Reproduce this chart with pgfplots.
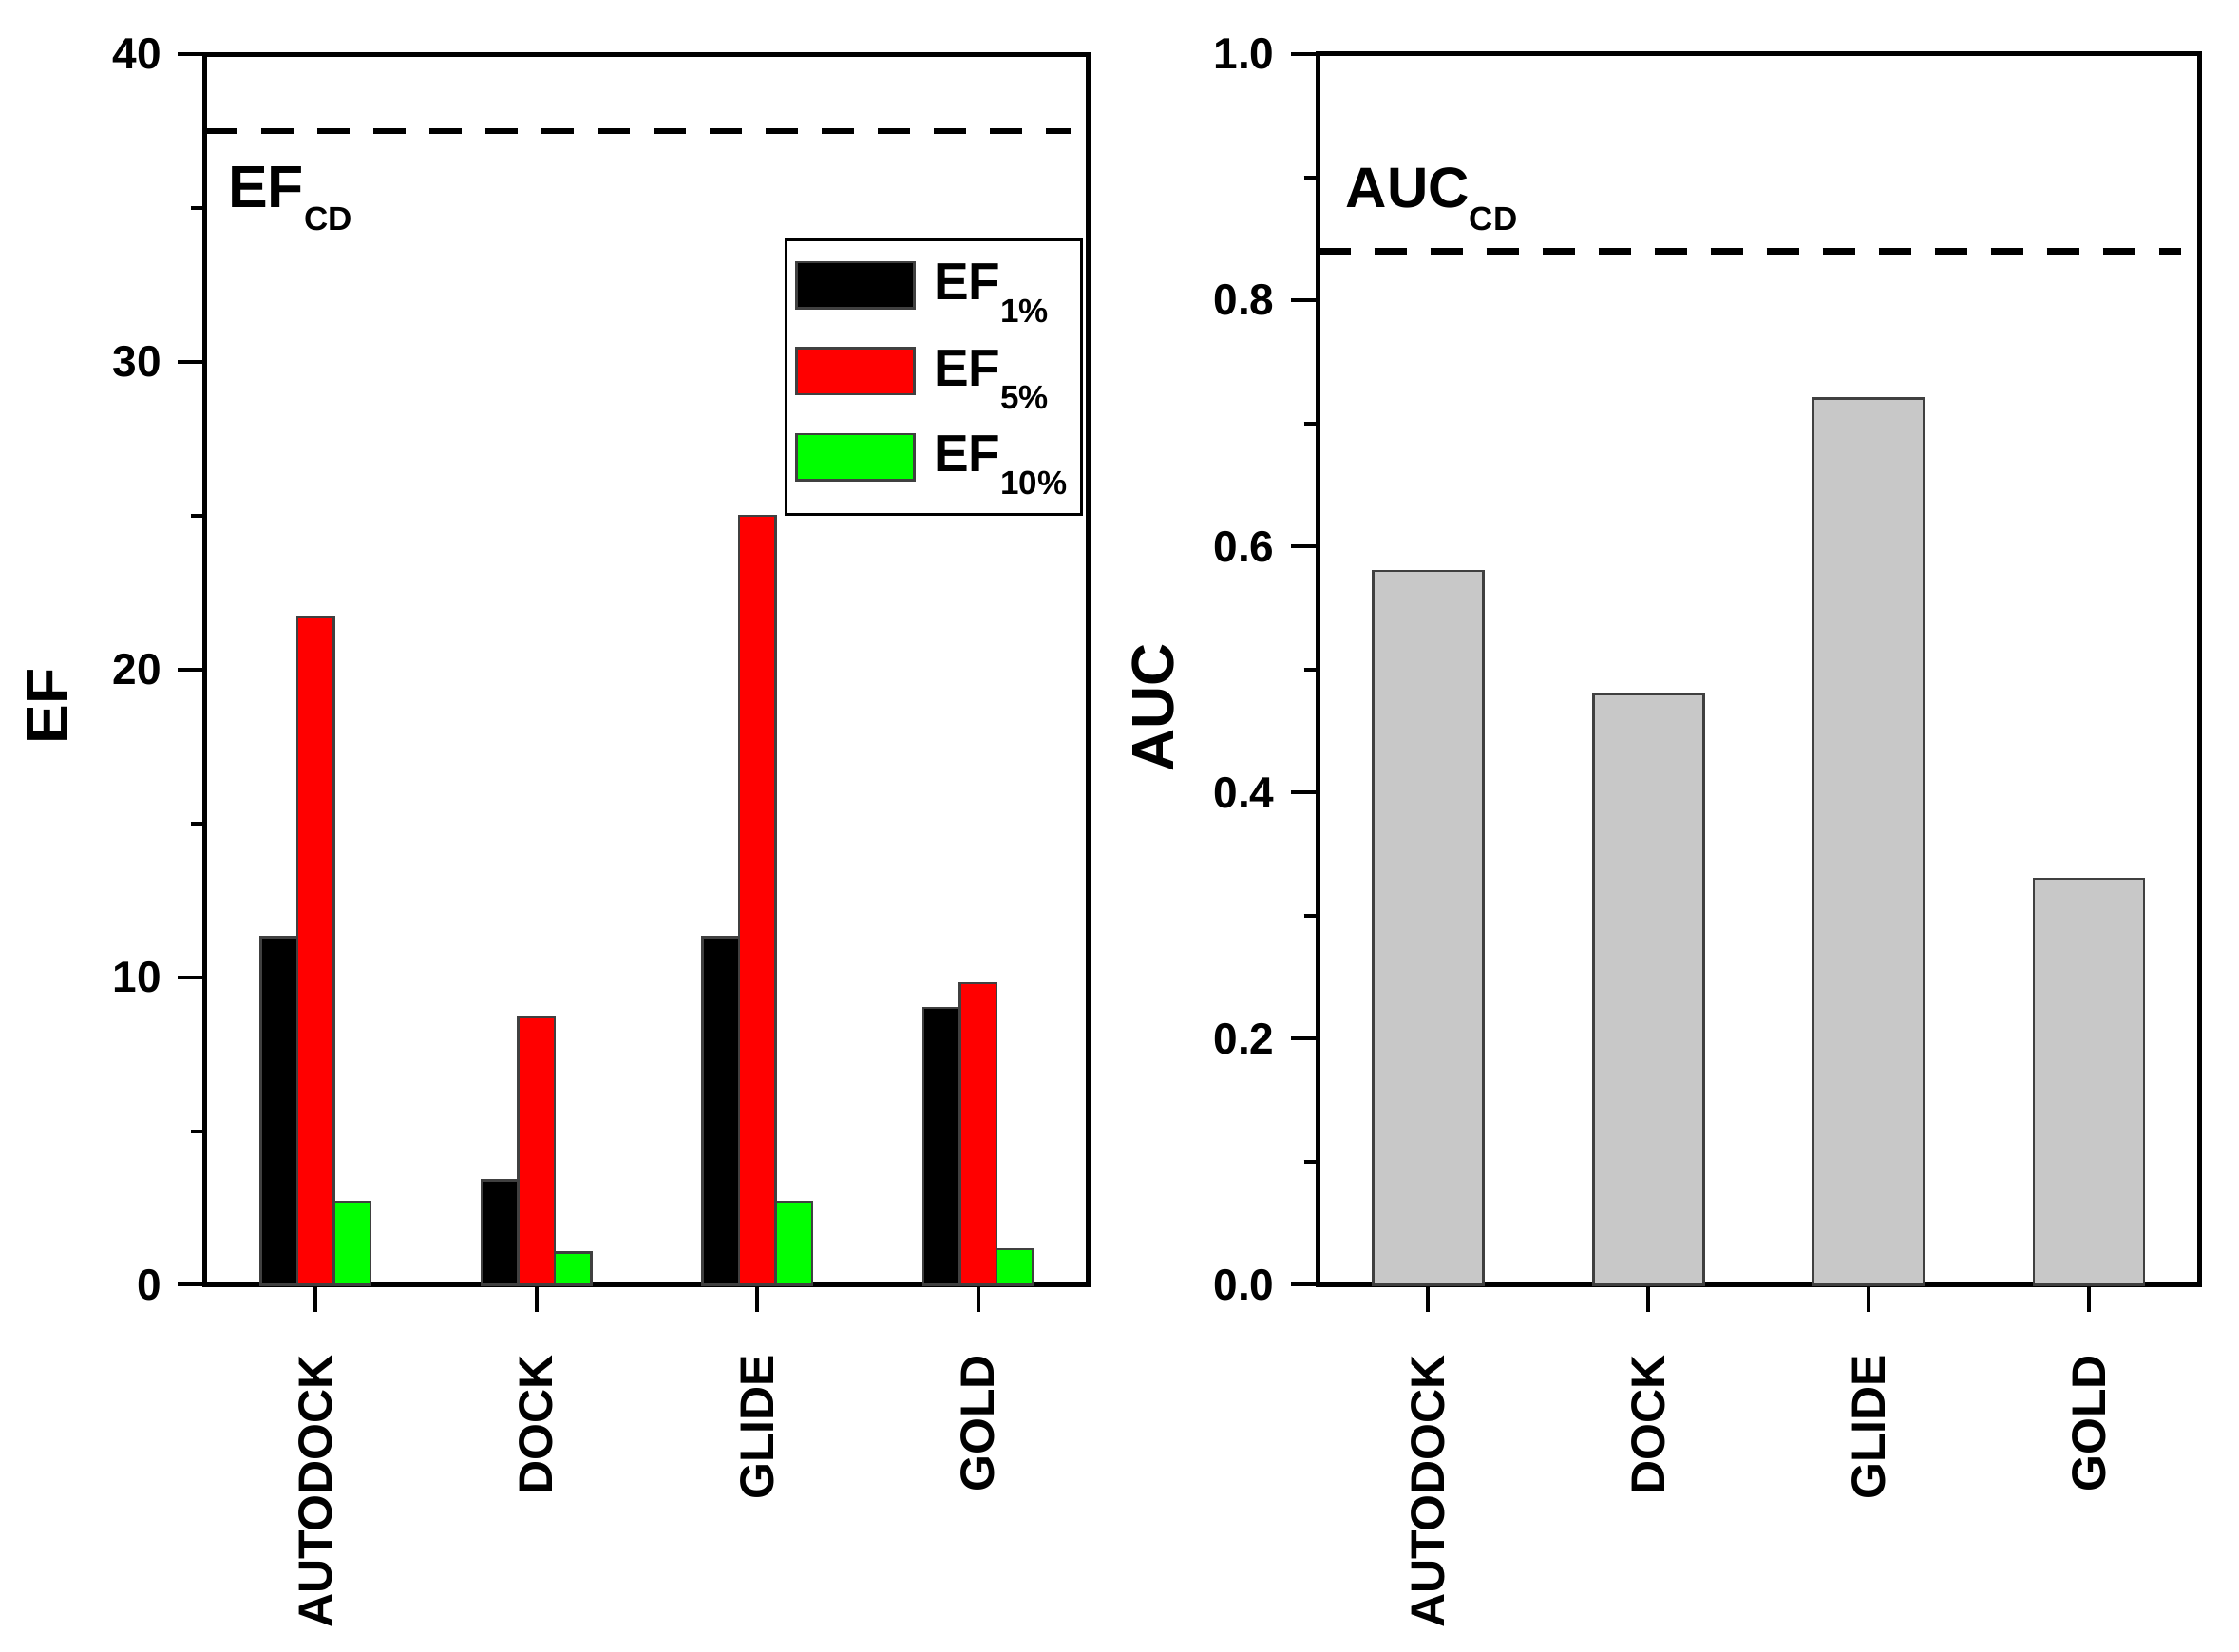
\documentclass[border=0pt]{standalone}
\usepackage{pgfplots}
\pgfplotsset{compat=1.18}
\usepackage{fontspec}
\setmainfont{Liberation Sans}
\definecolor{barred}{RGB}{255,0,0}
\definecolor{bargreen}{RGB}{0,255,0}
\definecolor{bargray}{RGB}{200,200,200}
\newcommand{\sub}[1]{\raisebox{-4.8pt}{\fontsize{7}{8}\selectfont\bfseries #1}}

\pgfplotstableread{
x  ef1   ef5   ef10
0  11.3  21.7  2.70
1  3.4   8.7   1.05
2  11.3  25.0  2.70
3  9.0   9.8   1.15
}\eftable

\pgfplotstableread{
x  auc
0  0.58
1  0.48
2  0.72
3  0.33
}\auctable

\pgfplotsset{
  common/.style={
    scale only axis,
    height=259.1pt,
    axis line style={line width=1pt},
    xmin=-0.5, xmax=3.5,
    xtick={0,1,2,3},
    xticklabels={AUTODOCK,DOCK,GLIDE,GOLD},
    tick align=outside,
    tick pos=left,
    major tick length=5.7pt,
    minor tick length=3pt,
    tick style={black, line width=0.8pt},
    minor y tick num=1,
    xticklabel style={rotate=90, anchor=east, inner sep=0pt,
      font=\fontsize{10}{12}\selectfont\bfseries},
    yticklabel style={inner sep=0pt, font=\fontsize{9.2}{11}\selectfont\bfseries},
    xticklabel shift=8.8pt,
    yticklabel shift=3.3pt,
    /pgf/number format/assume math mode=true,
    ylabel style={font=\fontsize{12.5}{14}\selectfont\bfseries, anchor=center},
    clip=false,
  },
}

\begin{document}
\begin{tikzpicture}
\path[use as bounding box] (0,0) rectangle (471.4pt,347.8pt);

% ---------------- left axis: EF ----------------
\begin{axis}[
  common,
  at={(43.2pt,77.3pt)}, anchor=south west,
  width=186pt,
  ymin=0, ymax=40,
  ytick={0,10,20,30,40},
  ylabel={EF},
  ylabel style={at={(axis description cs:-0.178,0.47)}},
  legend image code/.code={\draw[#1] (0pt,-1.8pt) rectangle (24.8pt,7.9pt);},
  legend style={at={(axis description cs:0.9936,0.85)}, anchor=north east,
    draw=black, line width=0.6pt, inner xsep=2pt, inner ysep=4pt,
    row sep=4.5pt, column sep=2.9pt,
    font=\fontsize{11}{13}\selectfont\bfseries,
    nodes={inner sep=1pt, text depth=4pt},
    cells={anchor=base west}},
]
\addplot[ybar, bar width=0.165, bar shift=-0.165, fill=black, draw=black!75, line width=0.5pt]
  table[x=x, y=ef1] {\eftable};
\addlegendentry{EF\sub{1\%}}
\addplot[ybar, bar width=0.165, bar shift=0, fill=barred, draw=black!75, line width=0.5pt]
  table[x=x, y=ef5] {\eftable};
\addlegendentry{EF\sub{5\%}}
\addplot[ybar, bar width=0.165, bar shift=0.165, fill=bargreen, draw=black!75, line width=0.5pt]
  table[x=x, y=ef10] {\eftable};
\addlegendentry{EF\sub{10\%}}
\addplot[forget plot, black, line width=1.3pt, dash pattern=on 6.8pt off 5pt]
  coordinates {(-0.5,37.5) (3.42,37.5)};
\node[anchor=base west, inner sep=0pt, font=\fontsize{12.5}{14}\selectfont\bfseries]
  at (axis description cs:0.025,0.875) {EF\sub{CD}};
\end{axis}

% ---------------- right axis: AUC ----------------
\begin{axis}[
  common,
  at={(277.5pt,77.3pt)}, anchor=south west,
  width=185.5pt,
  ymin=0, ymax=1,
  ytick={0,0.2,0.4,0.6,0.8,1},
  yticklabel style={/pgf/number format/.cd, fixed, fixed zerofill, precision=1},
  ylabel={AUC},
  ylabel style={at={(axis description cs:-0.187,0.469)}},
]
\addplot[ybar, bar width=0.5, bar shift=0, fill=bargray, draw=black!75, line width=0.5pt]
  table[x=x, y=auc] {\auctable};
\addplot[black, line width=1.3pt, dash pattern=on 6.8pt off 5pt]
  coordinates {(-0.5,0.84) (3.42,0.84)};
\node[anchor=base west, inner sep=0pt, font=\fontsize{12}{14}\selectfont\bfseries]
  at (axis description cs:0.0306,0.875) {AUC\sub{CD}};
\end{axis}
\end{tikzpicture}
\end{document}
